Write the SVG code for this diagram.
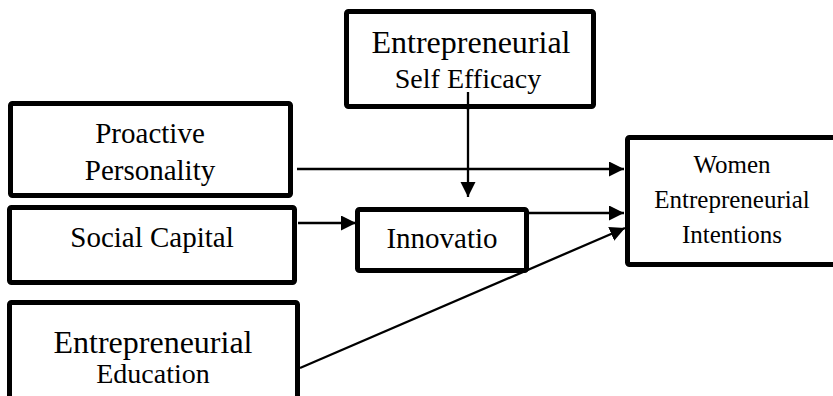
<svg xmlns="http://www.w3.org/2000/svg" width="833" height="396" viewBox="0 0 833 396">
<style>
.box{fill:#fff;stroke:#000;stroke-width:5;stroke-linejoin:round}
.t{font-family:'Liberation Serif',Tinos,'Times New Roman',Times,'DejaVu Serif',serif;fill:#000;text-anchor:middle}
.c{stroke:#000;stroke-width:2.3;fill:none}
</style>
<defs>
<marker id="ah" markerUnits="userSpaceOnUse" markerWidth="16" markerHeight="16" viewBox="0 0 16 16" refX="15" refY="7.5" orient="auto">
<path d="M0,0 L15,7.5 L0,15 z" fill="#000"/>
</marker>
</defs>
<rect width="833" height="396" fill="#fff"/>
<g id="connectors">
<line class="c" x1="297" y1="169" x2="624" y2="169" marker-end="url(#ah)"/>
<line class="c" x1="468" y1="92" x2="468" y2="197" marker-end="url(#ah)"/>
<line class="c" x1="298" y1="223" x2="356" y2="223" marker-end="url(#ah)"/>
<line class="c" x1="529" y1="213" x2="624" y2="213" marker-end="url(#ah)"/>
<line class="c" x1="300" y1="368" x2="625" y2="228" marker-end="url(#ah)"/>
</g>
<g id="ese">
<rect class="box" x="346.5" y="11.5" width="247" height="95" rx="2"/>
<text class="t" font-family="Liberation Serif" x="471" y="53" font-size="32">Entrepreneurial</text>
<text class="t" font-family="Liberation Serif" x="468" y="88" font-size="28">Self Efficacy</text>
</g>
<line class="c" x1="468" y1="92" x2="468" y2="110"/>
<g id="proactive">
<rect class="box" x="10.5" y="103.5" width="280" height="92" rx="2"/>
<text class="t" x="150" y="143" font-size="29">Proactive</text>
<text class="t" x="150" y="180" font-size="29">Personality</text>
</g>
<g id="social">
<rect class="box" x="9.5" y="207.5" width="285" height="75" rx="2"/>
<text class="t" x="152" y="247" font-size="29">Social Capital</text>
</g>
<g id="education">
<rect class="box" x="9.5" y="302.5" width="288" height="120" rx="2"/>
<text class="t" x="153" y="353" font-size="32">Entrepreneurial</text>
<text class="t" x="153" y="383" font-size="28">Education</text>
</g>
<g id="innovation">
<rect class="box" x="357.5" y="209.5" width="169" height="61" rx="2"/>
<text class="t" x="442" y="248" font-size="29">Innovatio</text>
</g>
<g id="wei">
<rect class="box" x="627.5" y="137.5" width="220" height="127" rx="2"/>
<text class="t" x="732" y="173" font-size="25">Women</text>
<text class="t" x="732" y="208" font-size="25">Entrepreneurial</text>
<text class="t" x="732" y="243" font-size="25">Intentions</text>
</g>
</svg>
